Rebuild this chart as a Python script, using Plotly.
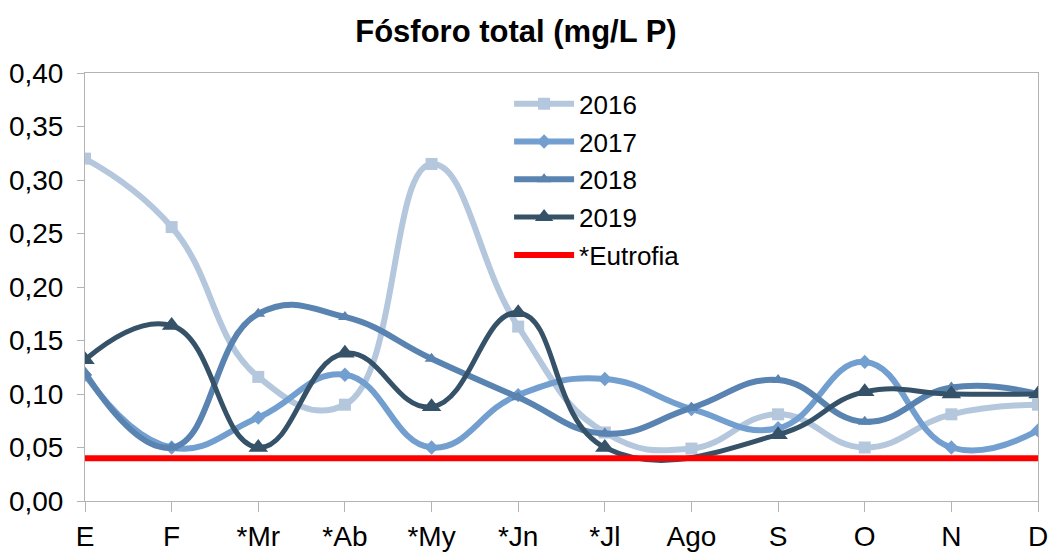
import plotly.graph_objects as go

months = ["E", "F", "*Mr", "*Ab", "*My", "*Jn", "*Jl", "Ago", "S", "O", "N", "D"]
y2016 = [0.320, 0.256, 0.116, 0.090, 0.315, 0.163, 0.064, 0.049, 0.081, 0.050, 0.081, 0.090]
y2017 = [0.118, 0.050, 0.078, 0.118, 0.050, 0.099, 0.114, 0.086, 0.068, 0.130, 0.050, 0.066]
y2018 = [0.120, 0.050, 0.175, 0.172, 0.133, 0.097, 0.063, 0.087, 0.113, 0.074, 0.106, 0.100]
y2019 = [0.132, 0.164, 0.050, 0.138, 0.088, 0.176, 0.050, None, 0.062, 0.102, 0.100, 0.100]
eutrofia = [0.04, 0.04, 0.04, 0.04, 0.04, 0.04, 0.04, 0.04, 0.04, 0.04, 0.04, 0.04]

series = [
    ("2016", y2016, "#b4c7dc", "square", 12, 6),
    ("2017", y2017, "#729fcf", "diamond", 11, 6),
    ("2018", y2018, "#5983b0", "triangle-up", 12, 6),
    ("2019", y2019, "#355269", "triangle-up", 17, 5),
]

fig = go.Figure()
for name, vals, color, sym, size, lw in series:
    fig.add_trace(go.Scatter(
        x=months, y=vals, name=name, mode="lines+markers",
        line=dict(color=color, width=lw, shape="spline", smoothing=1.3),
        marker=dict(symbol=sym, size=size, color=color),
        connectgaps=True, legendgroup=name,
    ))
fig.add_trace(go.Scatter(
    x=months, y=eutrofia, name="*Eutrofia", mode="lines",
    line=dict(color="#ff0000", width=6), legendgroup="eut",
))

fig.update_layout(
    width=1053, height=554,
    paper_bgcolor="white", plot_bgcolor="white",
    margin=dict(l=85, r=15, t=73, b=53),
    separators=",.",
    font=dict(family="Liberation Sans, Arial, sans-serif", size=28, color="black"),
    title=dict(text="<b>Fósforo total (mg/L P)</b>", x=0.49, xanchor="center",
               y=0.944, yanchor="middle", font=dict(size=31)),
    legend=dict(x=0.445, y=0.983, xanchor="left", yanchor="top",
                bgcolor="rgba(0,0,0,0)", font=dict(size=26),
                tracegroupgap=1, itemwidth=60),
    showlegend=True,
)
fig.update_xaxes(
    type="category", range=[0, 11], showgrid=False, zeroline=False,
    showline=True, linecolor="#b3b3b3", linewidth=1, mirror=True,
    ticks="outside", ticklen=10, tickcolor="#b3b3b3",
    tickfont=dict(size=28), automargin=False,
)
fig.update_yaxes(
    range=[0, 0.4], dtick=0.05, tickformat=".2f", showgrid=False, zeroline=False,
    showline=True, linecolor="#b3b3b3", linewidth=1, mirror=True,
    ticks="outside", ticklen=7, tickcolor="#b3b3b3",
    tickfont=dict(size=28), ticklabelstandoff=8, automargin=False,
)

fig.write_html("out.html", config={"displayModeBar": False},
               post_script="document.body.style.margin='0px';")
